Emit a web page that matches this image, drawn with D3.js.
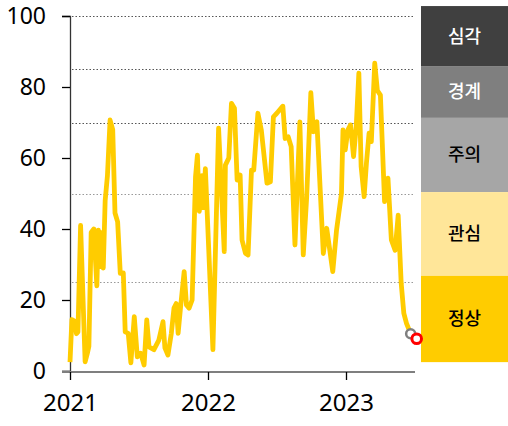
<!DOCTYPE html>
<html><head><meta charset="utf-8">
<script src="https://cdn.jsdelivr.net/npm/d3@7"></script>
<style>body{margin:0;background:#fff}svg{display:block}</style>
</head><body>
<svg id="c" width="508" height="426"></svg>
<script>
const dates = ["2021-01-01","2021-01-06","2021-01-14","2021-01-18","2021-01-22","2021-01-29","2021-02-10","2021-02-16","2021-02-20","2021-02-26","2021-03-05","2021-03-13","2021-03-17","2021-03-21","2021-03-26","2021-03-30","2021-04-04","2021-04-10","2021-04-17","2021-04-24","2021-04-30","2021-05-07","2021-05-14","2021-05-22","2021-05-27","2021-06-04","2021-06-11","2021-06-20","2021-06-28","2021-07-07","2021-07-16","2021-07-23","2021-07-29","2021-08-11","2021-08-24","2021-09-04","2021-09-09","2021-09-17","2021-09-26","2021-10-03","2021-10-09","2021-10-14","2021-10-21","2021-10-30","2021-11-05","2021-11-12","2021-11-20","2021-11-29","2021-12-04","2021-12-09","2021-12-16","2021-12-20","2021-12-25","2022-01-14","2022-01-29","2022-02-13","2022-02-16","2022-02-25","2022-03-04","2022-03-12","2022-03-19","2022-03-27","2022-04-01","2022-04-10","2022-04-17","2022-04-26","2022-05-02","2022-05-13","2022-05-22","2022-06-06","2022-06-15","2022-06-23","2022-07-02","2022-07-18","2022-07-24","2022-08-01","2022-08-09","2022-08-19","2022-08-24","2022-09-01","2022-09-10","2022-09-19","2022-09-30","2022-10-07","2022-10-16","2022-11-02","2022-11-11","2022-11-27","2022-12-07","2022-12-20","2022-12-24","2022-12-30","2023-01-06","2023-01-13","2023-01-21","2023-01-28","2023-02-04","2023-02-10","2023-02-18","2023-02-24","2023-03-03","2023-03-09","2023-03-18","2023-03-25","2023-04-02","2023-04-13","2023-04-22","2023-05-01","2023-05-11","2023-05-19","2023-05-27","2023-06-03","2023-06-10","2023-06-21"];
const values = [2.5,14.5,14,10.5,11,41,2.6,5,7,39,40,24,39.7,29.4,39,29,48,55,70.7,68,44.5,42,27.5,27.6,11,10.6,2.3,15.3,4,5,1.7,14.4,6.8,6,8.7,13.9,6.5,4.5,10.6,17.7,19,10.6,18.6,28,18.6,17.7,20,54.7,60.8,45,55,46,57,6,68.4,33.6,58,60,75.4,74,53.8,55.2,36.9,33.2,32.7,56.6,56.6,72.6,67.9,52.9,53.3,71.6,72.6,74.6,65.5,66,63.2,35.5,49,70.2,32.7,49,78.4,67.4,70.2,33.1,40.2,28,39.7,50,67.9,62.3,67.9,69.3,60.4,68.8,83.9,57.6,49.1,58.5,67,64.6,86.7,79,77.7,47.7,54.3,36.9,34,43.9,24.7,16.2,13.4,10.5];
const nextDate = "2023-07-07";
const nextValue = 9.1;
const yTicks = [0,20,40,60,80,100];
const xTickLabels = ["2021","2022","2023"];
const gridLevels = [100,85,70,50,25];
const levelNames = ["심각","경계","주의","관심","정상"];
const levelEdges = [102.8,85.9,71.3,50.4,26.8,2.5];

const parse = d3.timeParse("%Y-%m-%d");
const data = dates.map((d,i)=>({d:parse(d), v:values[i]}));
const svg = d3.select("#c");
const x = d3.scaleTime().domain([parse("2021-01-01"), parse("2024-01-01")]).range([70, 484]);
const y = d3.scaleLinear().domain([0,100]).range([371,16]);
const xEnd = 415;

// legend boxes
const boxColors = ["#404040","#7f7f7f","#a6a6a6","#ffe699","#ffcc00"];
const textColors = ["#fff","#fff","#000","#000","#000"];
const lg = svg.append("g");
levelNames.forEach((n,i)=>{
  const y0 = y(levelEdges[i]), y1 = y(levelEdges[i+1]);
  lg.append("rect").attr("x",421).attr("y",y0).attr("width",87).attr("height",y1-y0).attr("fill",boxColors[i]);
  lg.append("text").attr("x",464.5).attr("y",(y0+y1)/2).attr("dy","0.36em").attr("text-anchor","middle")
    .attr("font-family","'Noto Sans CJK KR'").attr("font-weight",500).attr("font-size",18).attr("fill",textColors[i]).text(n);
});

// grid
svg.append("g").selectAll("line").data(gridLevels).join("line")
  .attr("x1",72).attr("x2",xEnd).attr("y1",d=>Math.round(y(d))+0.5).attr("y2",d=>Math.round(y(d))+0.5)
  .attr("stroke",d=>d>=70?"#555":"#999").attr("stroke-width",1.2).attr("stroke-dasharray","1.5,2");

// axes
const yAxis = d3.axisLeft(y).tickValues(yTicks).tickSize(8).tickPadding(10);
const gy = svg.append("g").attr("transform","translate(70,0)").call(yAxis);
gy.select(".domain").attr("stroke","#333").attr("stroke-width",1.3);
gy.selectAll(".tick line").attr("stroke","#000").attr("stroke-width",1.3);
gy.selectAll("text").attr("font-family","'Noto Sans'").attr("font-size",23).attr("fill","#000").attr("x",-24);

const xAxis = d3.axisBottom(x).tickValues(xTickLabels.map(s=>parse(s+"-01-01"))).tickFormat(d3.timeFormat("%Y")).tickSize(8).tickPadding(14).tickSizeOuter(0);
const gx = svg.append("g").attr("transform","translate(0,372)").call(xAxis);
gx.select(".domain").attr("d","M62,0H"+xEnd).attr("stroke","#7f7f7f").attr("stroke-width",2.2);
gx.selectAll(".tick line").attr("stroke","#000").attr("stroke-width",1.3);
gx.selectAll("text").attr("font-family","'Noto Sans'").attr("font-size",24).attr("fill","#000");

// line
svg.append("path").datum(data)
  .attr("d", d3.line().x(d=>x(d.d)).y(d=>y(d.v)))
  .attr("fill","none").attr("stroke","#ffcc00").attr("stroke-width",4.8).attr("stroke-linejoin","round");

const last = data[data.length-1];
svg.append("circle").attr("cx",x(last.d)).attr("cy",y(last.v)).attr("r",4.5)
  .attr("fill","#fff").attr("stroke","#7f7f7f").attr("stroke-width",2.5);
svg.append("circle").attr("cx",x(parse(nextDate))).attr("cy",y(nextValue)).attr("r",4.8)
  .attr("fill","#fff").attr("stroke","#ff0000").attr("stroke-width",3);
</script>
</body></html>
